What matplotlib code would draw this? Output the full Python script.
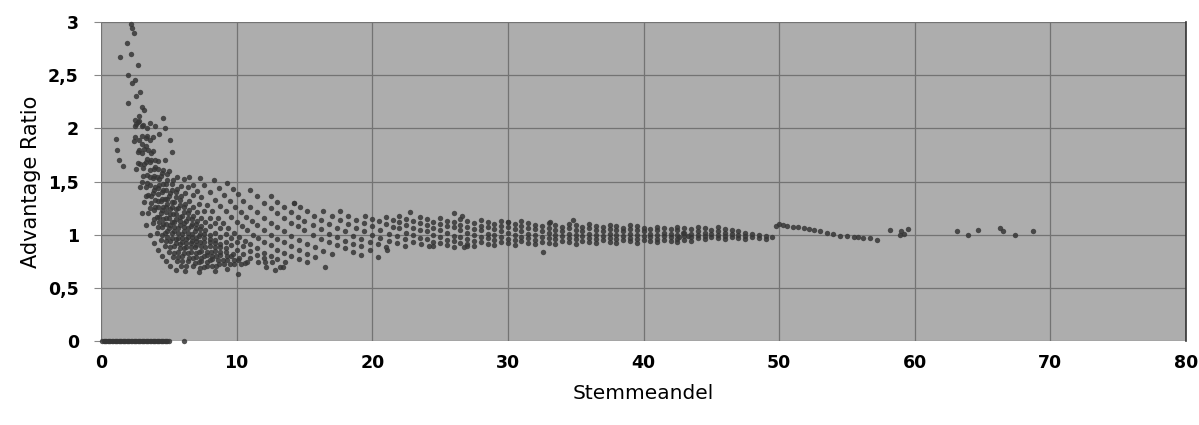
import matplotlib
matplotlib.use("Agg")
import matplotlib.pyplot as plt

# ---------------- data ----------------
# points lying on the zero line
zero_x = [0.1, 0.2, 0.3, 0.4, 0.5, 0.6, 0.7, 0.8, 0.9, 1.0, 1.1, 1.2, 1.3, 1.4, 1.5,
          1.6, 1.7, 1.8, 1.9, 2.0, 2.1, 2.2, 2.3, 2.4, 2.5, 2.6, 2.7, 2.8, 2.9, 3.0,
          3.1, 3.2, 3.3, 3.4, 3.5, 3.6, 3.7, 3.8, 3.9, 4.0, 4.1, 4.2, 4.3, 4.4, 4.5,
          4.6, 4.7, 4.8, 4.9, 5.0, 6.1]
zero_y = [0.0] * len(zero_x)

# sparse high points at small vote share
high_x = [2.3, 2.2, 2.4, 1.9, 1.4, 2.7, 2.0, 2.3, 2.5, 2.9, 2.0, 2.6, 3.2, 2.5, 2.8, 3.0,
          4.6, 4.7, 5.1, 5.2, 1.1, 1.2, 1.3, 1.6, 3.4, 3.6, 4.0, 4.3, 2.2, 3.8]
high_y = [2.94, 2.98, 2.90, 2.80, 2.67, 2.60, 2.50, 2.43, 2.45, 2.34, 2.24, 2.30, 2.17, 2.08,
          2.12, 2.20, 2.10, 2.00, 1.89, 1.78, 1.90, 1.80, 1.70, 1.65, 2.00, 2.05, 2.02, 1.95,
          2.70, 1.92]

# dense bands, vote share 2.5 - 24
band_x = [
    3.0, 3.3, 3.6, 3.9, 4.2, 4.5, 4.8, 5.1,
    2.6, 2.9, 3.2, 3.5, 3.8, 4.1, 4.4, 4.7, 5.0, 5.3, 5.6, 5.9,
    2.4, 2.7, 3.0, 3.3, 3.6, 3.9, 4.2, 4.5, 4.8, 5.1, 5.4, 5.7, 6.0, 6.3,
    2.5, 2.7, 2.9, 3.1, 3.3, 3.5, 3.7, 3.9, 4.1, 4.3, 4.5, 4.7, 4.9, 5.1, 5.4, 5.7, 6.0, 6.4, 6.8,
    2.5, 2.8, 3.1, 3.4, 3.7, 4.0, 4.3, 4.6, 4.9, 5.2, 5.5, 5.8, 6.1, 6.5, 6.9, 7.3,
    2.6, 2.8, 3.0, 3.2, 3.4, 3.6, 3.8, 4.0, 4.2, 4.4, 4.6, 4.8, 5.0, 5.2, 5.5, 5.8, 6.1, 6.4, 6.8, 7.2, 7.6,
    2.7, 3.0, 3.3, 3.6, 3.9, 4.2, 4.5, 4.8, 5.1, 5.4, 5.7, 6.0, 6.3, 6.6, 7.0, 7.4, 7.8,
    2.8, 3.0, 3.2, 3.4, 3.6, 3.8, 4.0, 4.2, 4.4, 4.6, 4.8, 5.0, 5.2, 5.4, 5.7, 6.0, 6.3, 6.6, 7.0, 7.4, 7.8, 8.2,
    3.0, 3.3, 3.6, 3.9, 4.2, 4.5, 4.8, 5.1, 5.4, 5.7, 6.0, 6.3, 6.6, 6.9, 7.2, 7.6, 8.0, 8.5,
    3.1, 3.3, 3.5, 3.7, 3.9, 4.1, 4.3, 4.5, 4.7, 4.9, 5.1, 5.3, 5.5, 5.8, 6.1, 6.4, 6.7, 7.0, 7.4, 7.8, 8.2, 8.7,
    3.4, 3.7, 4.0, 4.3, 4.6, 4.9, 5.2, 5.5, 5.8, 6.1, 6.4, 6.7, 7.0, 7.4, 7.8, 8.2, 8.6, 9.1,
    3.6, 3.8, 4.0, 4.2, 4.4, 4.6, 4.8, 5.0, 5.2, 5.5, 5.8, 6.1, 6.4, 6.7, 7.0, 7.3, 7.7, 8.1, 8.5, 9.0, 9.5,
    4.2, 4.5, 4.8, 5.1, 5.4, 5.7, 6.0, 6.3, 6.6, 6.9, 7.2, 7.6, 8.0, 8.4, 8.8, 9.3, 9.8,
    4.6, 4.9, 5.2, 5.5, 5.8, 6.1, 6.4, 6.7, 7.0, 7.3, 7.6, 8.0, 8.4, 8.8, 9.3, 9.8, 10.3,
    4.9, 5.2, 5.5, 5.8, 6.1, 6.4, 6.7, 7.0, 7.3, 7.6, 8.0, 8.4, 8.8, 9.2, 9.6, 10.1, 10.6,
    4.7, 5.0, 5.3, 5.6, 5.9, 6.2, 6.5, 6.8, 7.1, 7.4, 7.7, 8.0, 8.4, 8.8, 9.2, 9.7, 10.2, 10.8,
    5.6, 5.9, 6.2, 6.5, 6.8, 7.1, 7.4, 7.7, 8.0, 8.4, 8.8, 9.2, 9.6, 10.0, 10.5, 11.0, 11.6, 12.2, 12.8,
    6.1, 6.4, 6.8, 7.2, 7.6, 8.0, 8.4, 8.8, 9.2, 9.6, 10.0, 10.5, 11.0, 11.5, 12.0, 12.6, 13.2,
    6.5, 6.8, 7.1, 7.4, 7.8, 8.2, 8.6, 9.0, 9.4, 9.8, 10.2, 10.6, 11.0, 11.5, 12.0, 12.5, 13.0, 13.6,
    7.3, 7.6, 8.0, 8.4, 8.8, 9.2, 9.6, 10.0, 10.4, 10.8, 11.2, 11.6, 12.0, 12.5, 13.0, 13.5, 14.0, 14.6, 15.2,
    8.3, 8.7, 9.1, 9.5, 9.9, 10.3, 10.7, 11.1, 11.5, 12.0, 12.5, 13.0, 13.5, 14.0, 14.6, 15.2, 15.8,
    9.3, 9.7, 10.1, 10.5, 11.0, 11.5, 12.0, 12.5, 13.0, 13.5, 14.0, 14.6, 15.2, 15.8, 16.4, 17.0,
    11.0, 11.5, 12.0, 12.5, 13.0, 13.5, 14.0, 14.5, 15.0, 15.6, 16.2, 16.8, 17.4, 18.0, 18.6,
    12.5, 13.0, 13.5, 14.0, 14.5, 15.0, 15.6, 16.2, 16.8, 17.4, 18.0, 18.6, 19.2, 19.8,
    14.2, 14.7, 15.2, 15.7, 16.2, 16.8, 17.4, 18.0, 18.6, 19.2, 19.8, 20.4, 21.0,
    16.4, 17.0, 17.6, 18.2, 18.8, 19.4, 20.0, 20.6, 21.2, 21.8, 22.4,
    17.6, 18.2, 18.8, 19.4, 20.0, 20.6, 21.2, 21.8, 22.4, 23.0, 23.6, 24.2,
]
band_y = [
    1.20, 1.09, 1.00, 0.92, 0.86, 0.80, 0.75, 0.71,
    1.62, 1.45, 1.31, 1.20, 1.11, 1.02, 0.95, 0.89, 0.84, 0.79, 0.75, 0.71,
    1.88, 1.67, 1.50, 1.36, 1.25, 1.15, 1.07, 1.00, 0.94, 0.88, 0.83, 0.79, 0.75, 0.71,
    1.92, 1.78, 1.66, 1.55, 1.45, 1.37, 1.30, 1.23, 1.17, 1.12, 1.07, 1.02, 0.98, 0.94, 0.89, 0.84, 0.80, 0.75, 0.71,
    2.02, 1.80, 1.63, 1.49, 1.36, 1.26, 1.17, 1.10, 1.03, 0.97, 0.92, 0.87, 0.83, 0.78, 0.73, 0.69,
    2.04, 1.89, 1.77, 1.66, 1.56, 1.47, 1.39, 1.33, 1.26, 1.20, 1.15, 1.10, 1.06, 1.02, 0.96, 0.91, 0.87, 0.83, 0.78, 0.74, 0.70,
    2.06, 1.85, 1.68, 1.54, 1.42, 1.32, 1.23, 1.16, 1.09, 1.03, 0.97, 0.93, 0.88, 0.84, 0.79, 0.75, 0.71,
    2.07, 1.93, 1.81, 1.71, 1.61, 1.53, 1.45, 1.38, 1.32, 1.26, 1.21, 1.16, 1.12, 1.07, 1.02, 0.97, 0.92, 0.88, 0.83, 0.78, 0.74, 0.71,
    2.02, 1.83, 1.68, 1.55, 1.44, 1.34, 1.26, 1.19, 1.12, 1.06, 1.01, 0.96, 0.92, 0.88, 0.84, 0.80, 0.76, 0.71,
    2.03, 1.91, 1.80, 1.70, 1.62, 1.54, 1.47, 1.40, 1.34, 1.29, 1.24, 1.19, 1.15, 1.09, 1.03, 0.98, 0.94, 0.90, 0.85, 0.81, 0.77, 0.72,
    1.93, 1.77, 1.64, 1.52, 1.42, 1.34, 1.26, 1.19, 1.13, 1.07, 1.02, 0.98, 0.94, 0.89, 0.84, 0.80, 0.76, 0.72,
    1.89, 1.79, 1.70, 1.62, 1.55, 1.48, 1.42, 1.36, 1.31, 1.24, 1.17, 1.11, 1.06, 1.01, 0.97, 0.93, 0.88, 0.84, 0.80, 0.76, 0.72,
    1.69, 1.58, 1.48, 1.39, 1.31, 1.25, 1.18, 1.13, 1.08, 1.03, 0.99, 0.93, 0.89, 0.85, 0.81, 0.76, 0.72,
    1.61, 1.51, 1.42, 1.35, 1.28, 1.21, 1.16, 1.10, 1.06, 1.01, 0.97, 0.93, 0.88, 0.84, 0.80, 0.76, 0.72,
    1.57, 1.48, 1.40, 1.33, 1.26, 1.20, 1.15, 1.10, 1.05, 1.01, 0.96, 0.92, 0.88, 0.84, 0.80, 0.76, 0.73,
    1.70, 1.60, 1.51, 1.43, 1.36, 1.29, 1.23, 1.18, 1.13, 1.08, 1.04, 1.00, 0.95, 0.91, 0.87, 0.82, 0.78, 0.74,
    1.54, 1.46, 1.39, 1.32, 1.26, 1.21, 1.16, 1.12, 1.08, 1.02, 0.98, 0.93, 0.90, 0.86, 0.82, 0.78, 0.74, 0.70, 0.67,
    1.52, 1.45, 1.37, 1.29, 1.22, 1.16, 1.11, 1.06, 1.01, 0.97, 0.93, 0.89, 0.85, 0.81, 0.78, 0.74, 0.70,
    1.54, 1.47, 1.41, 1.35, 1.28, 1.22, 1.16, 1.11, 1.06, 1.02, 0.98, 0.94, 0.91, 0.87, 0.83, 0.80, 0.77, 0.74,
    1.53, 1.47, 1.40, 1.33, 1.27, 1.22, 1.17, 1.12, 1.08, 1.04, 1.00, 0.97, 0.93, 0.90, 0.86, 0.83, 0.80, 0.77, 0.74,
    1.51, 1.44, 1.37, 1.32, 1.26, 1.21, 1.17, 1.13, 1.09, 1.04, 1.00, 0.96, 0.93, 0.89, 0.86, 0.82, 0.79,
    1.49, 1.43, 1.38, 1.32, 1.26, 1.21, 1.16, 1.11, 1.07, 1.03, 0.99, 0.95, 0.91, 0.88, 0.85, 0.82,
    1.42, 1.36, 1.30, 1.25, 1.20, 1.16, 1.11, 1.08, 1.04, 1.00, 0.96, 0.93, 0.90, 0.87, 0.84,
    1.36, 1.31, 1.26, 1.21, 1.17, 1.13, 1.09, 1.05, 1.01, 0.98, 0.94, 0.91, 0.89, 0.86,
    1.30, 1.26, 1.22, 1.18, 1.14, 1.10, 1.06, 1.03, 0.99, 0.96, 0.93, 0.91, 0.88,
    1.22, 1.18, 1.14, 1.10, 1.06, 1.03, 1.00, 0.97, 0.94, 0.92, 0.89,
    1.22, 1.18, 1.14, 1.11, 1.08, 1.04, 1.01, 0.99, 0.96, 0.93, 0.91, 0.89,
]

# cloud, vote share 19.5 - 50
cloud_x = [
    19.5, 20.0, 20.5, 21.0, 21.5, 22.0, 22.5, 23.0, 23.5, 24.0, 24.5, 25.0, 25.5, 26.0,
    21.0, 21.5, 22.0, 22.5, 23.0, 23.5, 24.0, 24.5, 25.0, 25.5, 26.0, 26.5, 27.0, 27.5,
    22.0, 22.5, 23.0, 23.5, 24.0, 24.5, 25.0, 25.5, 26.0, 26.5, 27.0, 27.5, 28.0, 28.5, 29.0,
    23.5, 24.0, 24.5, 25.0, 25.5, 26.0, 26.5, 27.0, 27.5, 28.0, 28.5, 29.0, 29.5, 30.0, 30.5,
    25.0, 25.5, 26.0, 26.5, 27.0, 27.5, 28.0, 28.5, 29.0, 29.5, 30.0, 30.5, 31.0, 31.5, 32.0,
    26.5, 27.0, 27.5, 28.0, 28.5, 29.0, 29.5, 30.0, 30.5, 31.0, 31.5, 32.0, 32.5, 33.0, 33.5,
    28.0, 28.5, 29.0, 29.5, 30.0, 30.5, 31.0, 31.5, 32.0, 32.5, 33.0, 33.5, 34.0, 34.5, 35.0,
    29.5, 30.0, 30.5, 31.0, 31.5, 32.0, 32.5, 33.0, 33.5, 34.0, 34.5, 35.0, 35.5, 36.0, 36.5,
    31.0, 31.5, 32.0, 32.5, 33.0, 33.5, 34.0, 34.5, 35.0, 35.5, 36.0, 36.5, 37.0, 37.5, 38.0,
    33.0, 33.5, 34.0, 34.5, 35.0, 35.5, 36.0, 36.5, 37.0, 37.5, 38.0, 38.5, 39.0, 39.5,
    34.5, 35.0, 35.5, 36.0, 36.5, 37.0, 37.5, 38.0, 38.5, 39.0, 39.5, 40.0, 40.5, 41.0,
    36.0, 36.5, 37.0, 37.5, 38.0, 38.5, 39.0, 39.5, 40.0, 40.5, 41.0, 41.5, 42.0, 42.5,
    37.5, 38.0, 38.5, 39.0, 39.5, 40.0, 40.5, 41.0, 41.5, 42.0, 42.5, 43.0, 43.5,
    39.0, 39.5, 40.0, 40.5, 41.0, 41.5, 42.0, 42.5, 43.0, 43.5, 44.0, 44.5,
    41.0, 41.5, 42.0, 42.5, 43.0, 43.5, 44.0, 44.5, 45.0, 45.5, 46.0,
    42.5, 43.0, 43.5, 44.0, 44.5, 45.0, 45.5, 46.0, 46.5, 47.0, 47.5,
    44.0, 44.5, 45.0, 45.5, 46.0, 46.5, 47.0, 47.5, 48.0, 48.5, 49.0,
    45.5, 46.0, 46.5, 47.0, 47.5, 48.0, 48.5, 49.0, 49.5,
]
cloud_y = [
    1.18, 1.15, 1.13, 1.10, 1.07, 1.06, 1.02, 1.00, 0.97, 0.96, 0.93, 0.92, 0.90, 0.88,
    1.17, 1.14, 1.12, 1.09, 1.06, 1.04, 1.03, 1.00, 0.98, 0.95, 0.94, 0.92, 0.91, 0.89,
    1.18, 1.15, 1.13, 1.11, 1.09, 1.06, 1.04, 1.02, 0.99, 0.98, 0.96, 0.94, 0.93, 0.91, 0.90,
    1.17, 1.15, 1.12, 1.10, 1.08, 1.07, 1.04, 1.02, 1.00, 0.98, 0.97, 0.95, 0.93, 0.92, 0.90,
    1.16, 1.13, 1.12, 1.09, 1.07, 1.05, 1.04, 1.01, 1.00, 0.98, 0.96, 0.95, 0.94, 0.92, 0.91,
    1.15, 1.13, 1.11, 1.08, 1.07, 1.05, 1.03, 1.02, 1.00, 0.98, 0.97, 0.95, 0.93, 0.92, 0.91,
    1.14, 1.12, 1.10, 1.08, 1.07, 1.05, 1.03, 1.01, 1.00, 0.98, 0.97, 0.96, 0.94, 0.93, 0.91,
    1.13, 1.12, 1.10, 1.08, 1.06, 1.05, 1.03, 1.02, 1.00, 0.99, 0.97, 0.96, 0.94, 0.93, 0.92,
    1.13, 1.11, 1.09, 1.08, 1.06, 1.04, 1.03, 1.01, 1.00, 0.99, 0.97, 0.96, 0.95, 0.93, 0.92,
    1.11, 1.09, 1.07, 1.06, 1.04, 1.03, 1.01, 1.00, 0.99, 0.97, 0.96, 0.95, 0.94, 0.92,
    1.10, 1.09, 1.07, 1.06, 1.04, 1.03, 1.01, 1.00, 0.99, 0.97, 0.96, 0.95, 0.94, 0.93,
    1.10, 1.08, 1.07, 1.05, 1.04, 1.03, 1.01, 1.00, 0.99, 0.98, 0.96, 0.95, 0.94, 0.93,
    1.09, 1.08, 1.06, 1.05, 1.04, 1.03, 1.01, 1.00, 0.99, 0.98, 0.96, 0.95, 0.94,
    1.09, 1.08, 1.06, 1.05, 1.04, 1.02, 1.01, 1.00, 0.99, 0.98, 0.97, 0.96,
    1.07, 1.06, 1.05, 1.04, 1.02, 1.01, 1.00, 0.99, 0.98, 0.97, 0.96,
    1.07, 1.06, 1.05, 1.03, 1.02, 1.01, 1.00, 0.99, 0.98, 0.97, 0.96,
    1.07, 1.06, 1.04, 1.03, 1.02, 1.01, 1.00, 0.99, 0.98, 0.97, 0.96,
    1.07, 1.05, 1.04, 1.03, 1.02, 1.01, 1.00, 0.99, 0.98,
]

# isolated points / outliers
extra_x = [13.4, 16.5, 12.1, 19.2, 20.4, 10.1, 7.2, 8.4, 9.3, 6.2, 5.5, 22.8, 26.0, 26.6,
           30.0, 33.1, 34.8, 21.1, 24.5, 26.8, 27.0, 32.6, 42.9, 43.3, 42.6, 14.2]
extra_y = [0.70, 0.70, 0.74, 0.81, 0.79, 0.63, 0.65, 0.66, 0.68, 0.66, 0.67, 1.21, 1.20, 1.18,
           1.12, 1.12, 1.14, 0.86, 0.89, 0.88, 0.89, 0.84, 1.02, 0.99, 0.98, 1.30]

# large parties, vote share 50 - 70
large_x = [49.8, 50.0, 50.3, 50.6, 51.0, 51.4, 51.8, 52.2, 52.6, 53.0, 53.5, 54.0, 54.5,
           55.0, 55.5, 55.8, 56.2, 56.7, 57.2, 58.2, 58.9, 59.2, 59.5, 59.0, 63.1, 63.9,
           64.7, 66.3, 66.5, 67.4, 68.7]
large_y = [1.08, 1.10, 1.09, 1.08, 1.07, 1.07, 1.06, 1.05, 1.04, 1.03, 1.02, 1.01, 0.99,
           0.99, 0.98, 0.98, 0.97, 0.97, 0.95, 1.04, 1.00, 1.01, 1.05, 1.03, 1.03, 1.00,
           1.04, 1.06, 1.03, 1.00, 1.03]

x_ticks = [0, 10, 20, 30, 40, 50, 60, 70, 80]
y_ticks = [0, 0.5, 1, 1.5, 2, 2.5, 3]
y_tick_labels = ["0", "0,5", "1", "1,5", "2", "2,5", "3"]
x_label = "Stemmeandel"
y_label = "Advantage Ratio"

# ---------------- plot ----------------
plt.rcParams['font.family'] = ['DejaVu Sans']

fig = plt.figure(figsize=(11.99, 4.25), dpi=100)
ax = fig.add_axes([101 / 1199, 1 - 341 / 425, (1186 - 101) / 1199, (341 - 22) / 425])
ax.set_facecolor('#adadad')

all_x = zero_x + high_x + band_x + cloud_x + extra_x + large_x
all_y = zero_y + high_y + band_y + cloud_y + extra_y + large_y
ax.scatter(all_x, all_y, s=15, color='#363636', alpha=0.85, linewidths=0,
           clip_on=False, zorder=3)

ax.set_xlim(0, 80)
ax.set_ylim(0, 3)
ax.set_xticks(x_ticks)
ax.set_yticks(y_ticks)
ax.set_yticklabels(y_tick_labels)
ax.grid(True, color='#737373', linewidth=0.9, zorder=1)
ax.set_axisbelow(True)

for side in ['top', 'left', 'bottom']:
    ax.spines[side].set_visible(False)
ax.spines['right'].set_color('#333333')
ax.spines['right'].set_linewidth(1.2)

ax.tick_params(axis='y', length=5, color='#888888', width=0.8, pad=11,
               labelsize=12.5)
ax.tick_params(axis='x', length=0, pad=9, labelsize=12.5)
for lab in ax.get_xticklabels() + ax.get_yticklabels():
    lab.set_fontweight('bold')

ax.set_xlabel(x_label, fontsize=14.5, labelpad=9)
ax.set_ylabel(y_label, fontsize=15, labelpad=5)

fig.savefig('out.png', dpi=100, facecolor='white')
